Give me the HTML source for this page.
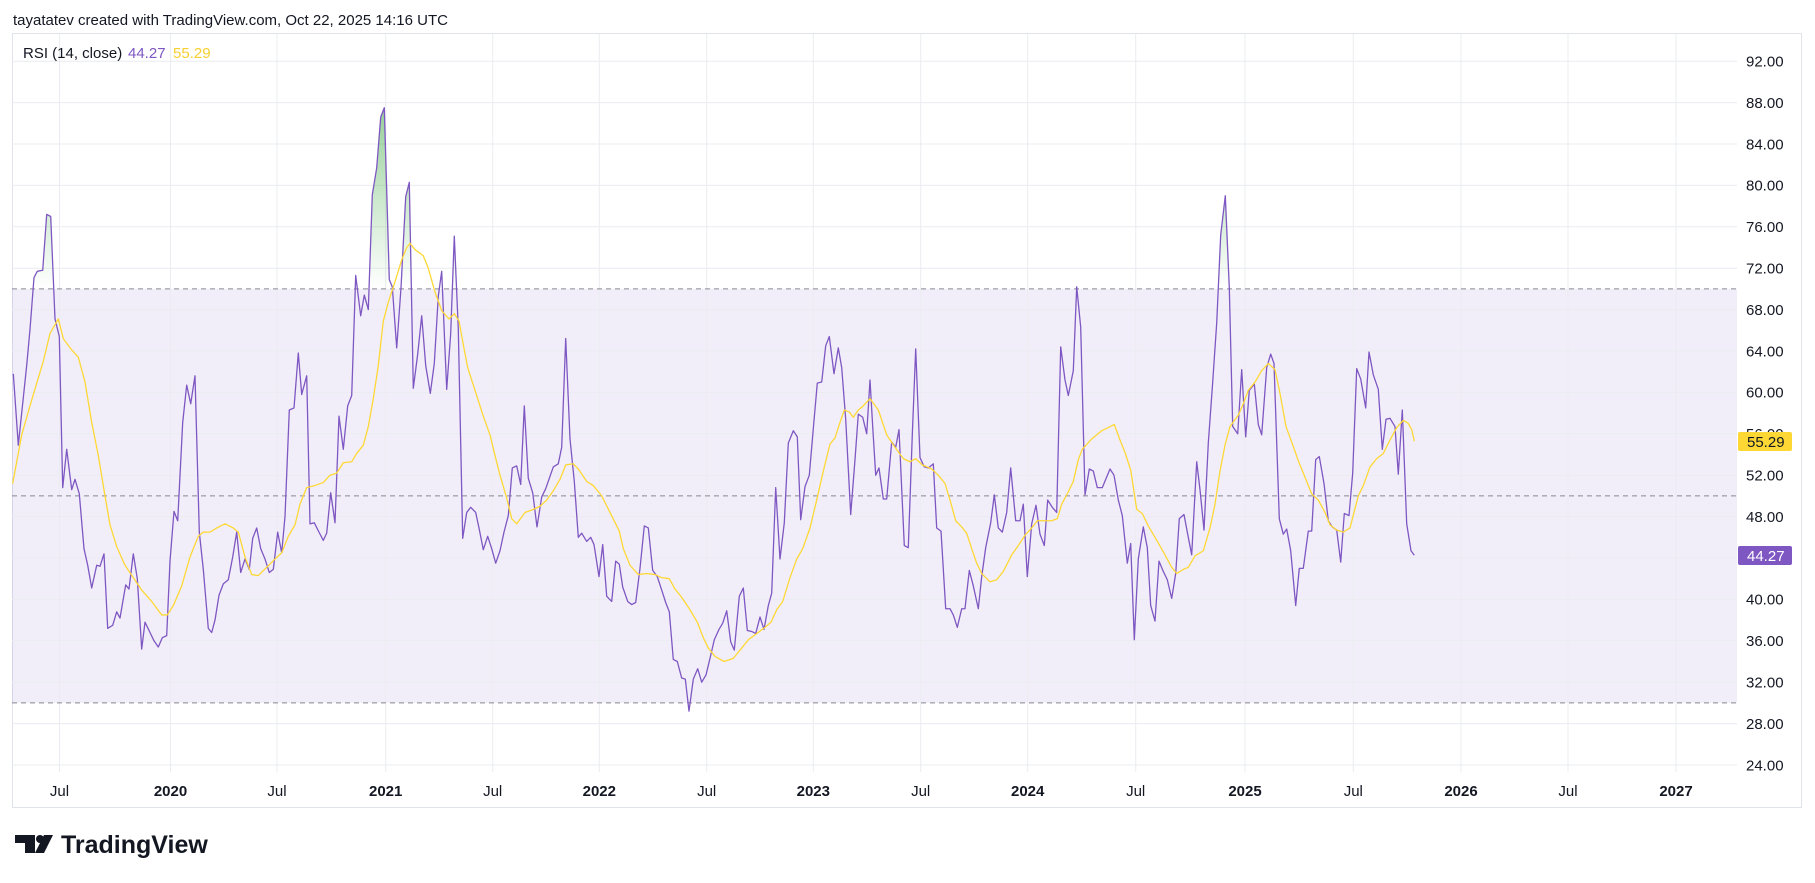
<!DOCTYPE html>
<html><head><meta charset="utf-8"><style>
html,body{margin:0;padding:0;background:#fff;}
svg{display:block;}
text{font-family:"Liberation Sans",sans-serif;}
</style></head><body>
<svg width="1815" height="883" viewBox="0 0 1815 883" xmlns="http://www.w3.org/2000/svg">
<defs>
<clipPath id="pane"><rect x="12" y="34" width="1725" height="738"/></clipPath>
<clipPath id="above70" clipPathUnits="userSpaceOnUse"><rect x="0" y="70" width="1800" height="60"/></clipPath>
<clipPath id="below30" clipPathUnits="userSpaceOnUse"><rect x="0" y="0" width="1800" height="30"/></clipPath>
<linearGradient id="gGreen" gradientUnits="userSpaceOnUse" x1="0" y1="100" x2="0" y2="70">
<stop offset="0" stop-color="#4caf50" stop-opacity="1"/><stop offset="1" stop-color="#4caf50" stop-opacity="0"/></linearGradient>
<linearGradient id="gRed" gradientUnits="userSpaceOnUse" x1="0" y1="0" x2="0" y2="30">
<stop offset="0" stop-color="#f23645" stop-opacity="1"/><stop offset="1" stop-color="#f23645" stop-opacity="0"/></linearGradient>
</defs>
<rect width="1815" height="883" fill="#fff"/>
<text x="13" y="25" font-size="15" fill="#131722">tayatatev created with TradingView.com, Oct 22, 2025 14:16 UTC</text>
<rect x="12.5" y="33.5" width="1789" height="774" fill="none" stroke="#e0e3eb" stroke-width="1"/>
<g clip-path="url(#pane)">
<rect x="12" y="288.9" width="1725" height="414" fill="rgba(126,87,194,0.1)"/>
<g stroke="#eaecf1" stroke-width="1">
<line x1="12" x2="1737" y1="61.2" y2="61.2"/><line x1="12" x2="1737" y1="102.6" y2="102.6"/><line x1="12" x2="1737" y1="144" y2="144"/><line x1="12" x2="1737" y1="185.4" y2="185.4"/><line x1="12" x2="1737" y1="226.8" y2="226.8"/><line x1="12" x2="1737" y1="268.2" y2="268.2"/><line x1="12" x2="1737" y1="309.6" y2="309.6"/><line x1="12" x2="1737" y1="351" y2="351"/><line x1="12" x2="1737" y1="392.4" y2="392.4"/><line x1="12" x2="1737" y1="433.8" y2="433.8"/><line x1="12" x2="1737" y1="475.2" y2="475.2"/><line x1="12" x2="1737" y1="516.6" y2="516.6"/><line x1="12" x2="1737" y1="558" y2="558"/><line x1="12" x2="1737" y1="599.4" y2="599.4"/><line x1="12" x2="1737" y1="640.8" y2="640.8"/><line x1="12" x2="1737" y1="682.2" y2="682.2"/><line x1="12" x2="1737" y1="723.6" y2="723.6"/><line x1="12" x2="1737" y1="765" y2="765"/>
<line y1="34" y2="772" x1="59.5" x2="59.5"/><line y1="34" y2="772" x1="170.5" x2="170.5"/><line y1="34" y2="772" x1="277" x2="277"/><line y1="34" y2="772" x1="385.7" x2="385.7"/><line y1="34" y2="772" x1="492.7" x2="492.7"/><line y1="34" y2="772" x1="599.3" x2="599.3"/><line y1="34" y2="772" x1="706.7" x2="706.7"/><line y1="34" y2="772" x1="813.3" x2="813.3"/><line y1="34" y2="772" x1="920.7" x2="920.7"/><line y1="34" y2="772" x1="1027.7" x2="1027.7"/><line y1="34" y2="772" x1="1135.7" x2="1135.7"/><line y1="34" y2="772" x1="1245" x2="1245"/><line y1="34" y2="772" x1="1353.3" x2="1353.3"/><line y1="34" y2="772" x1="1461" x2="1461"/><line y1="34" y2="772" x1="1568" x2="1568"/><line y1="34" y2="772" x1="1676" x2="1676"/>
</g>
<g stroke="#868993" stroke-width="1" stroke-dasharray="5 4">
<line x1="12" x2="1737" y1="288.9" y2="288.9"/>
<line x1="12" x2="1737" y1="495.9" y2="495.9"/>
<line x1="12" x2="1737" y1="702.9" y2="702.9"/>
</g>
<g transform="matrix(1,0,0,-10.35,0,1013.4)">
<polygon clip-path="url(#above70)" fill="url(#gGreen)" points="13.3,70 13.3,61.8 18.3,54.9 26.7,62.6 30,66.1 34,71.1 37.3,71.7 42.7,71.8 46.7,77.2 50.7,77.0 55,67.1 59.3,65.4 62.7,50.8 340,50 351.7,59.7 355.7,71.3 360.7,67.4 364.3,69.4 368.3,68.0 372.3,79.1 376.7,81.7 380.7,86.6 384.3,87.5 389.3,70.9 392.3,70.2 396.7,64.3 401,70.1 405.7,78.9 409.3,80.3 413.3,60.4 417.7,63.7 421.7,67.4 425.7,62.6 430.3,59.9 434.3,62.8 438.3,69.3 441.7,71.7 446.7,60.3 450.7,65.7 454.3,75.1 458.3,66.1 462.7,45.9 1056.7,48.4 1060.7,64.4 1065,61.2 1068.3,59.7 1073.3,62.1 1076.7,70.2 1080.7,66.3 1085,50.1 1216.7,66.7 1220.7,75.2 1225.3,79.0 1229.3,70.1 1232.7,56.7 1414.3,50 1414.3,70"/>
<polygon clip-path="url(#below30)" fill="url(#gRed)" points="685.3,30 685.3,32.3 689,29.2 693.3,32.3 693.3,30"/>
<polyline fill="none" stroke="#7e57c2" stroke-width="1.3" vector-effect="non-scaling-stroke" stroke-linejoin="round" points="13.3,61.8 18.3,54.9 26.7,62.6 30,66.1 34,71.1 37.3,71.7 42.7,71.8 46.7,77.2 50.7,77.0 55,67.1 59.3,65.4 62.7,50.8 66.7,54.5 71.7,50.6 75,51.6 79.3,50.2 84,44.9 87.7,43.3 91.7,41.1 96.7,43.3 100,43.2 104,44.4 107.7,37.2 112.7,37.5 116.7,38.8 120,38.2 125.7,41.4 129,41.0 133.3,44.4 137.3,42.0 141.7,35.2 145,37.8 150,36.8 154,36.0 158.3,35.4 162.3,36.3 166.7,36.5 170,43.7 174,48.5 177.7,47.6 182.7,57.1 186.7,60.7 190.7,58.9 195,61.6 199.3,46.5 203.3,42.9 208.3,37.2 211.7,36.8 215,38.0 219,40.4 223.3,41.5 228.3,41.9 232.7,44.1 236.7,46.5 240.7,42.6 245,43.9 249.3,42.9 252.7,45.9 256.7,46.9 260.7,44.9 265,43.9 269.3,42.6 273.3,42.9 277.7,46.5 281.7,44.5 285,48.0 289.3,58.3 294,58.5 298.3,63.8 301.7,59.8 306.7,61.6 310,47.3 314.3,47.4 319,46.5 323.3,45.7 326.7,46.4 330.7,50.3 335,47.4 339,57.7 343.3,54.5 347.7,58.7 351.7,59.7 355.7,71.3 360.7,67.4 364.3,69.4 368.3,68.0 372.3,79.1 376.7,81.7 380.7,86.6 384.3,87.5 389.3,70.9 392.3,70.2 396.7,64.3 401,70.1 405.7,78.9 409.3,80.3 413.3,60.4 417.7,63.7 421.7,67.4 425.7,62.6 430.3,59.9 434.3,62.8 438.3,69.3 441.7,71.7 446.7,60.3 450.7,65.7 454.3,75.1 458.3,66.1 462.7,45.9 466.7,48.4 470.7,48.9 475.7,48.4 479,46.9 483.3,44.8 487.7,46.1 491.7,44.9 495.7,43.5 500,44.7 504,46.5 508.3,48.1 512.3,52.7 516.7,52.9 520.7,51.1 524.3,58.7 528.3,51.7 532.7,50.3 537,47.0 541.7,49.9 545.7,50.7 549.3,51.7 553.3,52.8 558.3,53.1 561.7,54.7 565.7,65.2 570,55.5 574.3,51.4 578.3,46.0 581.7,46.4 586.7,45.6 590.7,46.0 594,45.3 599,42.2 602.7,45.3 606.7,40.3 611.7,39.8 615.7,43.7 619.3,43.4 622.7,41.2 627.7,39.8 631.7,39.5 635.7,39.7 640,43.0 644.3,47.1 648.3,46.9 652.7,42.8 657.3,42.2 661.7,40.9 665.7,39.7 669.3,38.8 673.3,34.2 677.3,34.0 681.7,32.4 685.3,32.3 689,29.2 693.3,32.3 697.7,33.3 701.7,32.0 706,32.7 710,34.3 714.3,36.1 719,37.1 722.7,37.7 726.7,38.9 730.7,35.9 734.3,35.1 739.3,40.3 743.3,41.1 747.3,37.0 751.7,36.9 755.7,36.7 760,38.3 764,37.1 768.3,39.4 771.7,40.6 775.7,50.8 780,43.9 784.3,47.4 788.3,55.1 793.3,56.3 797.3,55.7 800.7,47.7 805,50.9 809.3,52.0 813.3,56.5 817.3,60.9 821.7,61.0 825.7,64.5 829.3,65.4 834,61.8 838.3,64.3 841.7,62.4 845.7,57.4 850.7,48.2 855,53.5 858.3,57.9 862.7,57.6 866.7,56.0 870,61.2 872.7,56.7 875.7,52.0 879,52.7 883.3,49.7 886.7,49.7 891.7,55.2 895.7,54.7 899,56.4 904.3,45.2 908.3,45.0 912.3,55.9 915.7,64.2 920,53.7 924.3,52.8 928.3,52.7 933.3,53.1 936.7,46.9 941,46.6 945.7,39.1 950,39.1 953.3,38.5 957.3,37.3 961.7,39.1 965,39.1 969.3,42.8 973.3,41.3 978.3,39.1 981.7,42.2 985.7,45.0 990.7,47.4 994.3,50.1 998.3,46.9 1002.3,46.5 1006.7,48.4 1010.7,52.7 1015.7,47.6 1020,47.6 1023.3,49.2 1027.3,42.2 1031.7,47.3 1036,49.1 1040,46.3 1044.3,45.2 1047.7,49.6 1052.3,48.9 1056.7,48.4 1060.7,64.4 1065,61.2 1068.3,59.7 1073.3,62.1 1076.7,70.2 1080.7,66.3 1085,50.1 1089.3,52.6 1093.3,52.4 1097.3,50.8 1102.3,50.8 1105.7,51.6 1110,52.6 1114,52.0 1118.3,49.6 1122.3,48.1 1127.3,43.5 1130.7,45.4 1134.3,36.1 1138.3,43.9 1143.3,47.0 1147.3,45.0 1150.7,39.4 1155,37.9 1159,43.7 1163.3,42.7 1167.3,41.9 1171.7,40.1 1175.7,42.5 1179.3,47.8 1184,48.2 1187.7,46.3 1191.7,44.3 1196.7,53.3 1200,50.6 1204,46.7 1208.3,55.1 1212.7,61.0 1216.7,66.7 1220.7,75.2 1225.3,79.0 1229.3,70.1 1232.7,56.7 1237.7,56.0 1241.7,62.2 1245.7,55.7 1249.3,60.2 1254.3,60.8 1258.3,56.9 1261.7,55.9 1266.7,62.4 1270.7,63.7 1274,62.8 1279.3,47.8 1283.3,46.3 1286.7,46.8 1290.7,44.7 1295.7,39.4 1299.3,43.0 1303.3,43.0 1308.3,46.6 1311.7,46.6 1315.7,53.5 1319.3,53.8 1324,51.2 1328.3,47.6 1332.3,47.0 1336.7,46.7 1340.7,43.6 1344.3,48.3 1349,48.1 1352.7,52.2 1356.7,62.3 1360.7,61.3 1365.7,58.5 1369,63.9 1373.3,61.7 1378.3,60.3 1382.3,54.5 1386,57.4 1390,57.5 1395,56.7 1398.3,52.1 1402.3,58.3 1406.7,47.3 1411,44.7 1414.3,44.27"/>
<polyline fill="none" stroke="#fdd835" stroke-width="1.3" vector-effect="non-scaling-stroke" stroke-linejoin="round" points="12.7,51.2 21.7,55.9 30,58.7 38.3,61.4 43.3,63.0 50,65.7 58.3,67.1 63.3,65.2 71.7,64.1 78.3,63.4 85,61.0 91.7,57.1 98.3,53.9 105,50.0 110,47.2 116.7,45.1 125,43.3 133.3,42.1 141.7,40.9 151.7,39.8 161.7,38.5 167.3,38.5 173.3,39.4 181.7,41.3 190,44.1 198.3,46.1 203.3,46.5 210,46.5 216.7,46.9 225,47.3 233.3,46.9 238.3,46.5 245,44.1 251.7,42.4 258.3,42.3 266.7,43.1 275,43.9 281.7,44.5 288.3,46.1 295,47.2 300,49.2 306.7,50.8 315,51.0 323.3,51.3 330,52.0 336.7,52.2 343.3,53.2 351.7,53.3 356.7,54.1 363.3,54.9 368.3,56.7 373.3,59.4 378.3,62.6 383.3,66.9 388.3,68.7 395,70.7 401.7,72.8 406.7,74.0 410,74.4 415,73.8 423.3,73.2 428.3,72.0 435,69.7 441.7,67.9 449,67.1 454.3,67.6 459,66.9 463.3,64.6 467.7,62.4 475,60.2 483.3,57.7 490,55.9 495,53.9 500,52.0 506.7,49.8 511.7,47.8 516.7,47.3 525,48.4 533.3,48.7 540,49.0 546.7,49.6 553.3,50.5 560,51.6 565.7,53.0 573.3,53.1 578.3,52.6 586.7,51.4 593.3,51.0 601.7,50.0 610,48.4 619.3,46.6 623.3,44.9 630,43.3 638.3,42.4 646.7,42.5 655,42.4 661.7,42.1 669.3,42.0 675,41.0 681.7,40.2 690,39.0 697.3,37.8 703.3,36.3 708.3,35.3 715,34.5 724,34.0 733.3,34.3 741.7,35.3 748.3,36.1 756.7,36.7 765,37.3 771,37.8 776.7,39.0 782.7,39.8 790,42.1 796.7,43.9 802.7,44.9 810,46.9 816.7,49.6 823.3,52.4 830,55.0 835,55.6 840,57.1 844.3,58.3 849.3,58.1 853.3,57.6 858.3,58.3 863.3,58.7 870,59.4 878.3,58.3 886.7,55.9 895,54.7 903.3,53.6 910,53.3 915.7,53.6 922.3,53.0 931.7,52.6 938.3,52.0 945,51.2 950,49.6 955.7,47.6 961.7,47.0 966.7,46.4 971.7,44.9 976.7,43.5 981.7,42.5 990,41.7 996.7,41.9 1003.3,42.7 1011.7,44.3 1018.3,45.2 1025,46.2 1031.7,46.9 1037.3,47.6 1045,47.6 1051.7,47.6 1057.3,47.8 1061.7,49.2 1068.3,50.4 1073.3,51.4 1078.3,53.5 1082.3,54.5 1091.7,55.5 1101.7,56.3 1108.3,56.6 1114.3,56.9 1120,55.4 1125,54.2 1130.7,52.5 1136.7,48.7 1142.3,48.3 1148.3,47.1 1155,46.0 1163.3,44.6 1171.7,43.1 1176.7,42.5 1183.3,42.9 1188.3,43.1 1195,44.2 1203.3,44.7 1210,46.9 1215,49.2 1220,52.4 1225,54.9 1230,56.7 1238.3,57.8 1243.3,58.9 1248.3,60.2 1255,61.0 1261.7,62.1 1268.3,62.8 1275,62.2 1280,59.9 1286,56.7 1291.7,55.2 1298.3,53.4 1305,51.8 1311.7,50.2 1318.3,49.6 1325,48.4 1330,47.2 1336.7,46.7 1343.3,46.5 1350,46.9 1354,48.4 1358.3,50.0 1363.3,51.0 1370,52.8 1376.7,53.6 1383.3,54.1 1390,55.4 1396.7,56.6 1403.3,57.3 1408.3,57.0 1411.7,56.4 1414.3,55.29"/>
</g>
</g>
<text x="23" y="58" font-size="15" fill="#131722">RSI (14, close)</text>
<text x="128" y="58" font-size="15" fill="#7e57c2">44.27</text>
<text x="173" y="58" font-size="15" fill="#f7cf2e">55.29</text>
<g font-size="15" fill="#131722">
<text x="1746" y="66.5">92.00</text><text x="1746" y="107.9">88.00</text><text x="1746" y="149.3">84.00</text><text x="1746" y="190.7">80.00</text><text x="1746" y="232.1">76.00</text><text x="1746" y="273.5">72.00</text><text x="1746" y="314.9">68.00</text><text x="1746" y="356.3">64.00</text><text x="1746" y="397.7">60.00</text><text x="1746" y="439.1">56.00</text><text x="1746" y="480.5">52.00</text><text x="1746" y="521.9">48.00</text><text x="1746" y="604.7">40.00</text><text x="1746" y="646.1">36.00</text><text x="1746" y="687.5">32.00</text><text x="1746" y="728.9">28.00</text><text x="1746" y="770.3">24.00</text>
</g>
<rect x="1738" y="432" width="54" height="19" rx="2" fill="#fdd835"/>
<text x="1747" y="447" font-size="15" fill="#131722">55.29</text>
<rect x="1738" y="546" width="54" height="19" rx="2" fill="#7e57c2"/>
<text x="1747" y="561" font-size="15" fill="#ffffff">44.27</text>
<g font-size="15" fill="#131722" text-anchor="middle">
<text x="59.5" y="796">Jul</text><text x="170.5" y="796" font-weight="bold">2020</text><text x="277" y="796">Jul</text><text x="385.7" y="796" font-weight="bold">2021</text><text x="492.7" y="796">Jul</text><text x="599.3" y="796" font-weight="bold">2022</text><text x="706.7" y="796">Jul</text><text x="813.3" y="796" font-weight="bold">2023</text><text x="920.7" y="796">Jul</text><text x="1027.7" y="796" font-weight="bold">2024</text><text x="1135.7" y="796">Jul</text><text x="1245" y="796" font-weight="bold">2025</text><text x="1353.3" y="796">Jul</text><text x="1461" y="796" font-weight="bold">2026</text><text x="1568" y="796">Jul</text><text x="1676" y="796" font-weight="bold">2027</text>
</g>
<g fill="#131722">
<rect x="15" y="835" width="20" height="8"/>
<rect x="25" y="835" width="10" height="18"/>
<circle cx="40" cy="839" r="4"/>
<polygon points="44,835 53,835 44,853 35,853"/>
</g>
<text x="61" y="853" font-size="25" font-weight="bold" fill="#131722">TradingView</text>
</svg>
</body></html>
